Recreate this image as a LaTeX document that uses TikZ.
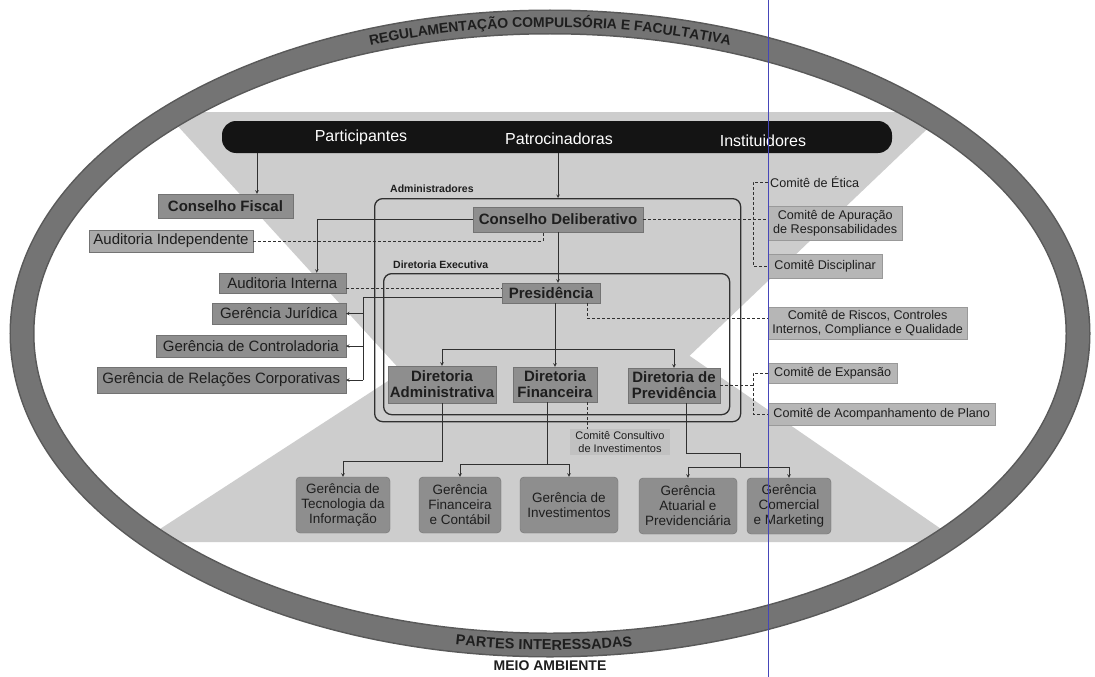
\documentclass[tikz,border=0pt]{standalone}
\usepackage{fontspec}
\setmainfont{Liberation Sans}
\usetikzlibrary{arrows, positioning, decorations.text}

\definecolor{ringgray}{HTML}{747474}
\definecolor{bggray}{HTML}{CDCDCD}
\definecolor{boxgray}{HTML}{8E8E8E}
\definecolor{litegray}{HTML}{B6B6B6}
\definecolor{inkgray}{HTML}{1E1E1E}
\definecolor{linegray}{HTML}{303030}

\tikzstyle{boxmain} = [
  rectangle,
  draw=black!55,
  fill=boxgray,
  text=inkgray,
  inner sep=2pt,
  align=center,
  font=\fontsize{15}{16}\selectfont\bfseries
]
\tikzstyle{boxside} = [
  rectangle,
  draw=black!55,
  fill=boxgray,
  text=inkgray,
  inner sep=2pt,
  align=center,
  font=\fontsize{15}{17}\selectfont
]
\tikzstyle{boxcomite} = [
  rectangle,
  draw=black!40,
  fill=litegray,
  text=inkgray,
  inner sep=2pt,
  align=center,
  font=\fontsize{12.6}{14}\selectfont
]
\tikzstyle{boxger} = [
  rectangle,
  rounded corners=4pt,
  draw=black!55,
  fill=boxgray,
  text=inkgray,
  inner sep=2pt,
  align=center,
  minimum height=56pt,
  font=\fontsize{13.5}{15}\selectfont
]
\tikzstyle{barlabel} = [text=white, font=\fontsize{16}{18}\selectfont]
\tikzstyle{framelabel} = [anchor=west, inner sep=0pt, text=inkgray, font=\fontsize{10.5}{12}\selectfont\bfseries]
\tikzstyle{framebox} = [draw=linegray, line width=1.3pt, rounded corners=8pt]
\tikzstyle{arrow} = [draw=linegray, line width=0.6pt, ->, >=stealth]
\tikzstyle{conn} = [draw=linegray, line width=0.6pt]
\tikzstyle{dline} = [draw=linegray, line width=0.6pt, densely dashed]

\begin{document}
\begin{tikzpicture}[x=1pt, y=1pt]
    \fill [white] (0,0) rectangle (1095,-677);
    \useasboundingbox (0,0) rectangle (1095,-677);

    % hourglass behind the chart
    \fill [bggray, rounded corners=14pt] (165,-112) -- (945,-112) -- (528,-510) -- cycle;
    \fill [bggray, rounded corners=18pt] (562,-268) -- (960,-542) -- (140,-542) -- cycle;

    % outer ring
    \coordinate (ringc) at (550,-333.5);
    \draw [black!65, line width=25pt] (ringc) ellipse [x radius=528, y radius=311.5];
    \draw [ringgray, line width=22pt] (ringc) ellipse [x radius=528, y radius=311.5];
    \path [decorate, decoration={text along path, text align=center, raise=-5pt, text color=inkgray,
        text={|\fontsize{14}{14}\selectfont\bfseries|REGULAMENTAÇÃO COMPULSÓRIA E FACULTATIVA}}]
        ([shift={(125:528 and 311.5)}]ringc) arc [start angle=125, end angle=55, x radius=528, y radius=311.5];
    \path [decorate, decoration={text along path, text align=center, raise=-5pt, text color=inkgray,
        text={|\fontsize{14.5}{14.5}\selectfont\bfseries|PARTES INTERESSADAS}}]
        ([shift={(245:528 and 311.5)}]ringc) arc [start angle=245, end angle=293.6, x radius=528, y radius=311.5];
    \node (meio) [text=inkgray, font=\fontsize{14}{16}\selectfont\bfseries] at (550,-666) {MEIO AMBIENTE};

    % top bar
    \node (topbar) [rectangle, rounded corners=14pt, fill=black!92, minimum width=670pt, minimum height=32pt] at (557,-137) {};
    \node (participantes) [barlabel] at (361,-137) {Participantes};
    \node (patrocinadoras) [barlabel] at (559,-139) {Patrocinadoras};
    \node (instituidores) [barlabel] at (763,-141) {Instituidores};

    % frames
    \node (admframe) [framebox, minimum width=366pt, minimum height=223pt, anchor=north west] at (374,-198) {};
    \node (dirframe) [framebox, minimum width=346pt, minimum height=141pt, anchor=north west] at (383,-273) {};
    \node (admlabel) [framelabel] at (390,-189) {Administradores};
    \node (dirlabel) [framelabel] at (393,-265) {Diretoria Executiva};

    % left column
    \node (cfiscal) [boxmain, minimum width=135pt, minimum height=24pt] at (225.5,-206) {Conselho Fiscal};
    \node (audind) [boxside, fill=boxgray!75!white, minimum width=164pt, minimum height=22pt] at (171,-241) {Auditoria Independente};
    \node (audint) [boxside, anchor=east, minimum width=127pt, minimum height=20pt] at (346,-283) {Auditoria Interna};
    \node (gjur) [boxside, anchor=east, minimum width=134pt, minimum height=21pt] at (346,-313.5) {Gerência Jurídica};
    \node (gcont) [boxside, anchor=east, minimum width=190pt, minimum height=22pt] at (346,-346) {Gerência de Controladoria};
    \node (grel) [boxside, anchor=east, minimum width=249pt, minimum height=26pt] at (346,-380) {Gerência de Relações Corporativas};

    % centre
    \node (cdelib) [boxmain, minimum width=170pt, minimum height=25pt] at (558,-219.5) {Conselho Deliberativo};
    \node (presid) [boxmain, minimum width=98pt, minimum height=20pt] at (551,-293) {Presidência};
    \node (dadm) [boxmain, minimum width=108pt, minimum height=37pt] at (442,-384.5) {Diretoria\\Administrativa};
    \node (dfin) [boxmain, minimum width=84pt, minimum height=35pt] at (555,-384.5) {Diretoria\\Financeira};
    \node (dprev) [boxmain, minimum width=92pt, minimum height=35pt] at (674,-385.5) {Diretoria de\\Previdência};

    % committees
    \node (cetica) [boxcomite, draw=none, fill=none, anchor=west] at (768,-182) {Comitê de Ética};
    \node (capur) [boxcomite, anchor=west, minimum width=134pt, minimum height=34pt] at (768,-223) {Comitê de Apuração\\de Responsabilidades};
    \node (cdisc) [boxcomite, anchor=west, minimum width=114pt, minimum height=24pt] at (768,-266) {Comitê Disciplinar};
    \node (criscos) [boxcomite, anchor=west, minimum width=199pt, minimum height=32pt] at (768,-323) {Comitê de Riscos, Controles\\Internos, Compliance e Qualidade};
    \node (cexp) [boxcomite, anchor=west, minimum width=129pt, minimum height=20pt] at (768,-373) {Comitê de Expansão};
    \node (cacomp) [boxcomite, anchor=west, minimum width=227pt, minimum height=22pt] at (768,-414) {Comitê de Acompanhamento de Plano};
    \node (cconsult) [boxcomite, draw=none, fill=litegray!50!bggray, font=\fontsize{11}{13}\selectfont, minimum width=100pt] at (620,-442) {Comitê Consultivo\\de Investimentos};

    % bottom row
    \node (gti) [boxger, minimum width=94pt] at (343,-505) {Gerência de\\Tecnologia da\\Informação};
    \node (gfin) [boxger, minimum width=82pt] at (460,-505) {Gerência\\Financeira\\e Contábil};
    \node (ginv) [boxger, minimum width=98pt] at (569,-505) {Gerência de\\Investimentos};
    \node (gatu) [boxger, minimum width=98pt] at (688,-506) {Gerência\\Atuarial e\\Previdenciária};
    \node (gcom) [boxger, minimum width=84pt] at (789,-506) {Gerência\\Comercial\\e Marketing};

    \draw [arrow] ([xshift=31.5pt]cfiscal.north |- topbar.south) -- ([xshift=31.5pt]cfiscal.north);
    \draw [arrow] (topbar.south -| cdelib.north) -- (admframe.north -| cdelib.north);
    \draw [arrow] (cdelib.south) -- (cdelib.south |- presid.north);
    \draw [arrow] (dfin.north |- presid.south) -- (dfin.north);
    \coordinate (dirbranch) at (555,-349);
    \draw [conn] (dirbranch -| dadm.north) -- (dirbranch -| dprev.north);
    \draw [arrow] (dirbranch -| dadm.north) -- (dadm.north);
    \draw [arrow] (dirbranch -| dprev.north) -- (dprev.north);

    \draw [arrow] (cdelib.west) -| ([xshift=34.5pt]audint.north);
    \draw [dline] (audind.east) -| ([xshift=-15pt]cdelib.south);
    \draw [dline] ([yshift=-5pt]audint.east) -- ([yshift=-5pt]audint.east -| presid.west);
    \coordinate (jurbus) at (363,-297);
    \draw [conn] (jurbus -| presid.west) -- (jurbus) -- (jurbus |- grel.east);
    \draw [arrow] (jurbus |- gjur.east) -- (gjur.east);
    \draw [arrow] (jurbus |- gcont.east) -- (gcont.east);
    \draw [arrow] (jurbus |- grel.east) -- (grel.east);

    \coordinate (combus) at (753,-223);
    \draw [dline] (cdelib.east) -- (cdelib.east -| capur.west);
    \draw [dline] (cetica.west) -| (combus |- cdisc.west) -- (cdisc.west);
    \draw [dline] ([xshift=36pt]presid.south) |- ([yshift=5pt]criscos.west);
    \coordinate (prevbus) at (753,-385.5);
    \draw [dline] (dprev.east) -- (prevbus);
    \draw [dline] (cexp.west) -| (prevbus |- cacomp.west) -- (cacomp.west);

    \draw [arrow] (dadm.south) -- ++(0,-58) -| (gti.north);
    \draw [conn] ([xshift=-8pt]dfin.south) -- ++(0,-62) coordinate (finbranch);
    \draw [conn] (finbranch -| gfin.north) -- (finbranch -| ginv.north);
    \draw [arrow] (finbranch -| gfin.north) -- (gfin.north);
    \draw [arrow] (finbranch -| ginv.north) -- (ginv.north);
    \draw [dline] ([xshift=32pt]dfin.south) -- ([xshift=32pt]dfin.south |- cconsult.north);
    \draw [conn] ([xshift=12pt]dprev.south) -- ++(0,-50) -- ++(54,0) -- ++(0,-14) coordinate (prevbranch);
    \draw [conn] (prevbranch -| gatu.north) -- (prevbranch -| gcom.north);
    \draw [arrow] (prevbranch -| gatu.north) -- (gatu.north);
    \draw [arrow] (prevbranch -| gcom.north) -- (gcom.north);

    % scan line
    \coordinate (scantop) at (768,0);
    \coordinate (scanbot) at (768,-677);
    \draw [blue!45!gray, line width=0.6pt] (scantop) -- (scanbot);
\end{tikzpicture}
\end{document}
